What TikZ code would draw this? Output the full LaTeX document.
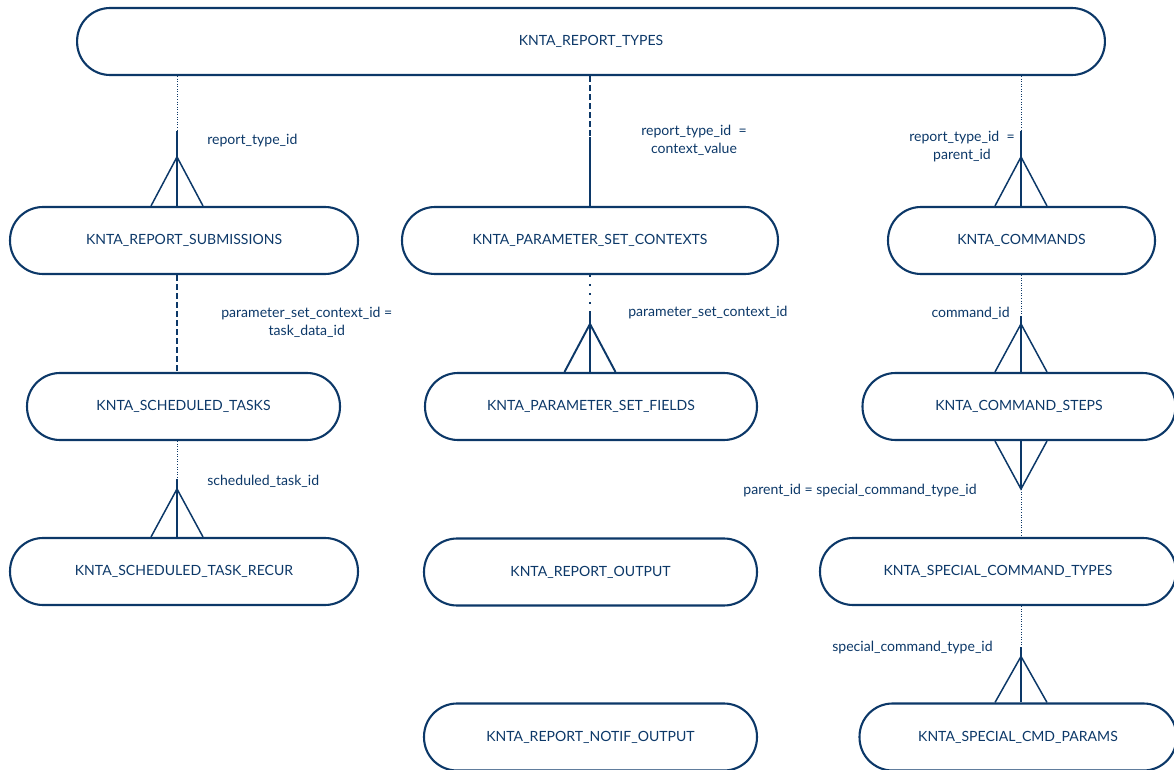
\documentclass[tikz,border=0pt]{standalone}
\usepackage{fontspec}
\setmainfont{Lato}
\usetikzlibrary{positioning, calc}
\definecolor{erdblue}{RGB}{12,56,104}

\newcommand{\crowfoot}[2]{%
  \draw[rel] ($(#1)+(-26,0)$) -- (#2) -- ($(#1)+(26,0)$);}

\begin{document}
\begin{tikzpicture}[x=0.02cm, y=-0.02cm,
    tbl/.style={draw=erdblue, line width=1.2pt, rounded corners=0.66cm,
      minimum height=1.34cm, inner sep=0pt, text=erdblue,
      font=\fontsize{8}{10.2}\selectfont},
    lbl/.style={text=erdblue, inner sep=0pt, align=center,
      font=\fontsize{8}{10.2}\selectfont},
    rel/.style={draw=erdblue, line width=0.85pt},
    opt/.style={draw=erdblue, line width=0.45pt, densely dotted},
    optdash/.style={draw=erdblue, line width=0.9pt, dash pattern=on 0.12cm off 0.06cm},
    optdot/.style={draw=erdblue, line width=1pt, dash pattern=on 0.04cm off 0.14cm}]
\useasboundingbox (0,0) rectangle (1174,770);

% tables
\node[tbl, minimum width=20.56cm] (types) at (591,41.5) {KNTA\_REPORT\_TYPES};
\node[tbl, minimum width=6.96cm] (sub) at (184,240.5) {KNTA\_REPORT\_SUBMISSIONS};
\node[tbl, minimum width=7.52cm] (psc) at (590,240.5) {KNTA\_PARAMETER\_SET\_CONTEXTS};
\node[tbl, minimum width=5.34cm] (cmd) at (1021.5,240.5) {KNTA\_COMMANDS};
\node[tbl, minimum width=6.26cm] (sched) at (183.5,406.5) {KNTA\_SCHEDULED\_TASKS};
\node[tbl, minimum width=6.64cm] (psf) at (591,406.5) {KNTA\_PARAMETER\_SET\_FIELDS};
\node[tbl, minimum width=6.26cm] (steps) at (1019,406.5) {KNTA\_COMMAND\_STEPS};
\node[tbl, minimum width=6.96cm] (recur) at (184,571.5) {KNTA\_SCHEDULED\_TASK\_RECUR};
\node[tbl, minimum width=6.66cm] (rout) at (590.5,572) {KNTA\_REPORT\_OUTPUT};
\node[tbl, minimum width=7.12cm] (sct) at (998,571.5) {KNTA\_SPECIAL\_COMMAND\_TYPES};
\node[tbl, minimum width=6.66cm] (notif) at (590.5,737) {KNTA\_REPORT\_NOTIF\_OUTPUT};
\node[tbl, minimum width=6.34cm] (cmdp) at (1018,737) {KNTA\_SPECIAL\_CMD\_PARAMS};

% report types -> report submissions
\coordinate (f1) at ($(sub.north)+(-7,0)$);
\draw[opt] (f1 |- types.south) -- ($(f1)+(0,-75)$);
\draw[rel] ($(f1)+(0,-75)$) -- (f1);
\crowfoot{f1}{$(f1)+(0,-49)$}
\node[lbl, anchor=west] at ($(f1)+(30,-65)$) {report\_type\_id};

% report types -> parameter set contexts
\coordinate (f2) at (psc.north);
\draw[optdash] (f2 |- types.south) -- ($(f2)+(0,-69)$);
\draw[rel] ($(f2)+(0,-69)$) -- (f2);
\node[lbl] at ($(f2)+(104,-66)$) {report\_type\_id\ \ =\\context\_value};

% report types -> commands
\coordinate (f3) at ($(cmd.north)+(-0.5,0)$);
\draw[opt] (f3 |- types.south) -- ($(f3)+(0,-75)$);
\draw[rel] ($(f3)+(0,-75)$) -- (f3);
\crowfoot{f3}{$(f3)+(0,-49)$}
\node[lbl, anchor=east] at ($(f3)+(-6,-59)$) {report\_type\_id\ \ =\\parent\_id};

% report submissions -> scheduled tasks
\coordinate (f4) at ($(sched.north)+(-6.5,0)$);
\draw[optdash] (f4 |- sub.south) -- (f4);
\node[lbl, anchor=west] at ($(f4)+(44,-50)$) {parameter\_set\_context\_id =\\task\_data\_id};

% parameter set contexts -> parameter set fields
\coordinate (f5) at ($(psf.north)+(-1,0)$);
\draw[optdot] (f5 |- psc.south) -- ($(f5)+(0,-60)$);
\draw[rel, line width=1.1pt] ($(f5)+(0,-60)$) -- (f5);
\draw[rel, line width=1.1pt] ($(f5)+(-25.5,0)$) -- ($(f5)+(0,-48)$) -- ($(f5)+(25.5,0)$);
\node[lbl, anchor=west] at ($(f5)+(38,-59)$) {parameter\_set\_context\_id};

% commands -> command steps
\coordinate (f6) at ($(steps.north)+(2,0)$);
\draw[opt] (f6 |- cmd.south) -- ($(f6)+(0,-56)$);
\draw[rel] ($(f6)+(0,-56)$) -- (f6);
\crowfoot{f6}{$(f6)+(0,-48)$}
\node[lbl, anchor=east] at ($(f6)+(-11,-59)$) {command\_id};

% scheduled tasks -> scheduled task recur
\coordinate (f7) at ($(recur.north)+(-7,0)$);
\draw[opt] (f7 |- sched.south) -- ($(f7)+(0,-58)$);
\draw[rel] ($(f7)+(0,-58)$) -- (f7);
\crowfoot{f7}{$(f7)+(0,-48)$}
\node[lbl, anchor=west] at ($(f7)+(30,-56)$) {scheduled\_task\_id};

% command steps -> special command types
\coordinate (f8) at ($(steps.south)+(2,0)$);
\draw[rel] (f8) -- ($(f8)+(0,48)$);
\crowfoot{f8}{$(f8)+(0,48)$}
\draw[opt] ($(f8)+(0,48)$) -- (f8 |- sct.north);
\node[lbl, anchor=east] at ($(f8)+(-44,49)$) {parent\_id = special\_command\_type\_id};

% special command types -> special cmd params
\coordinate (f9) at ($(cmdp.north)+(3,0)$);
\draw[opt] (f9 |- sct.south) -- ($(f9)+(0,-55)$);
\draw[rel] ($(f9)+(0,-55)$) -- (f9);
\crowfoot{f9}{$(f9)+(0,-46)$}
\node[lbl, anchor=east] at ($(f9)+(-28,-55)$) {special\_command\_type\_id};

\end{tikzpicture}
\end{document}
